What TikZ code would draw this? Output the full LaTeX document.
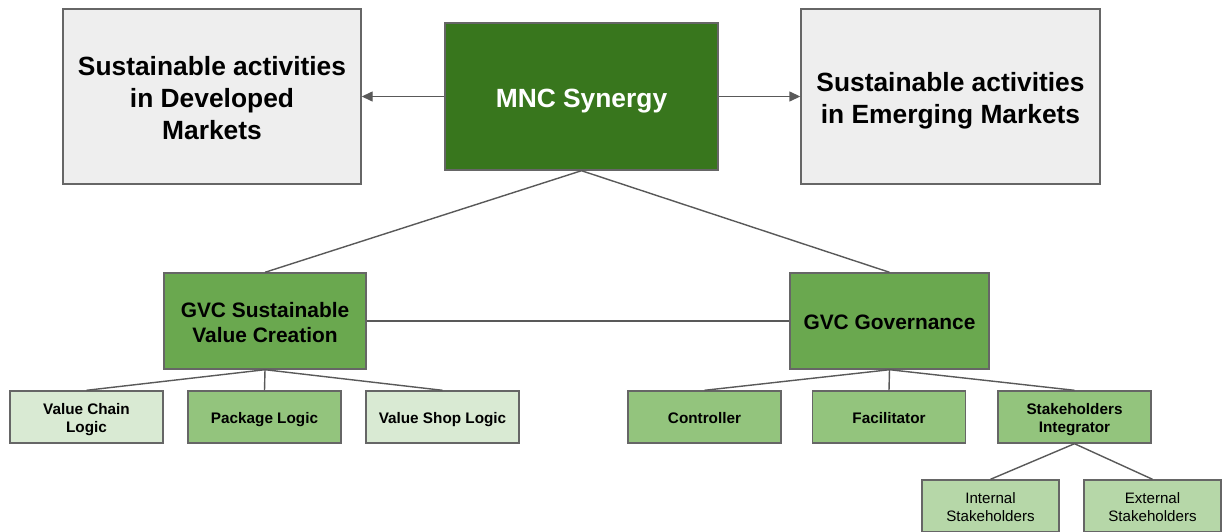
\documentclass[tikz,border=0pt]{standalone}
\usepackage{fontspec}
\setmainfont{Liberation Sans}
\usetikzlibrary{arrows.meta}

\definecolor{greydark}{HTML}{666666}
\definecolor{linegrey}{HTML}{595959}
\definecolor{boxgrey}{HTML}{EEEEEE}
\definecolor{greendark}{HTML}{38761D}
\definecolor{greenmid}{HTML}{6AA84F}
\definecolor{greenlight}{HTML}{93C47D}
\definecolor{greenpale}{HTML}{B6D7A8}
\definecolor{greenfaint}{HTML}{D9EAD3}
\newcommand{\topline}{\rule{0pt}{1.05em}}

\begin{document}
\begin{tikzpicture}[
        box/.style={draw=greydark, line width=0.8pt, align=center, inner sep=0pt,
            execute at begin node={\topline},
            execute at end node={\rule[-0.212em]{0pt}{0.212em}}},
        bigbox/.style={box, font=\fontsize{15}{18}\selectfont\bfseries},
        midbox/.style={box, fill=greenmid, minimum height=1.92cm,
            font=\fontsize{11.9}{14}\selectfont\bfseries},
        smallbox/.style={box, minimum width=3.06cm, minimum height=1.04cm,
            font=\fontsize{8.7}{10.2}\selectfont\bfseries},
        leafbox/.style={box, fill=greenpale, minimum width=2.74cm, minimum height=1.04cm,
            font=\fontsize{8.6}{10.2}\selectfont},
        link/.style={draw=linegrey, line width=0.8pt},
        pointer/.style={link, -{Triangle[length=2.2mm, width=2mm]}}
    ]
        % A kep hatarai
        \useasboundingbox (0,0) rectangle (24.48,-10.62);
        % Felso sor: a harom nagy doboz
        \node[bigbox, fill=boxgrey, minimum width=5.96cm, minimum height=3.5cm] (dev) at (4.24,-1.93)
            {\topline Sustainable activities\\in Developed\\Markets};
        \node[bigbox, fill=greendark, text=white, minimum width=5.46cm, minimum height=2.94cm] (mnc) at (11.63,-1.93)
            {MNC Synergy};
        \node[bigbox, fill=boxgrey, minimum width=5.98cm, minimum height=3.5cm] (emerg) at (19.01,-1.93)
            {\topline Sustainable activities\\in Emerging Markets};
        % Nyilak a kozepso dobozbol kifele
        \draw[pointer] (mnc.west) -- (dev.east);
        \draw[pointer] (mnc.east) -- (emerg.west);
        % Masodik sor: a ket GVC doboz
        \node[midbox, minimum width=4.04cm] (svc) at (5.30,-6.42)
            {\topline GVC Sustainable\\Value Creation};
        \node[midbox, minimum width=3.98cm] (gov) at (17.79,-6.42)
            {GVC Governance};
        \draw[link] (mnc.south) -- (svc.north);
        \draw[link] (mnc.south) -- (gov.north);
        \draw[link] (svc.east) -- (gov.west);
        % Harmadik sor a bal oldalon
        \node[smallbox, fill=greenfaint] (chain) at (1.73,-8.34) {\topline Value Chain\\Logic};
        \node[smallbox, fill=greenlight] (package) at (5.29,-8.34) {Package Logic};
        \node[smallbox, fill=greenfaint] (shop) at (8.85,-8.34) {Value Shop Logic};
        \foreach \leaf in {chain,package,shop}
            \draw[link] (svc.south) -- (\leaf.north);
        % Harmadik sor a jobb oldalon
        \node[smallbox, fill=greenlight] (controller) at (14.09,-8.34) {Controller};
        \node[smallbox, fill=greenlight] (facilitator) at (17.78,-8.34) {Facilitator};
        \node[smallbox, fill=greenlight] (integrator) at (21.49,-8.34) {\topline Stakeholders\\Integrator};
        \foreach \leaf in {controller,facilitator,integrator}
            \draw[link] (gov.south) -- (\leaf.north);
        % Legalso sor: az erintettek
        \node[leafbox] (internal) at (19.81,-10.12) {\topline Internal\\Stakeholders};
        \node[leafbox] (external) at (23.05,-10.12) {\topline External\\Stakeholders};
        \draw[link] (integrator.south) -- (internal.north);
        \draw[link] (integrator.south) -- (external.north);
    \end{tikzpicture}
\end{document}
